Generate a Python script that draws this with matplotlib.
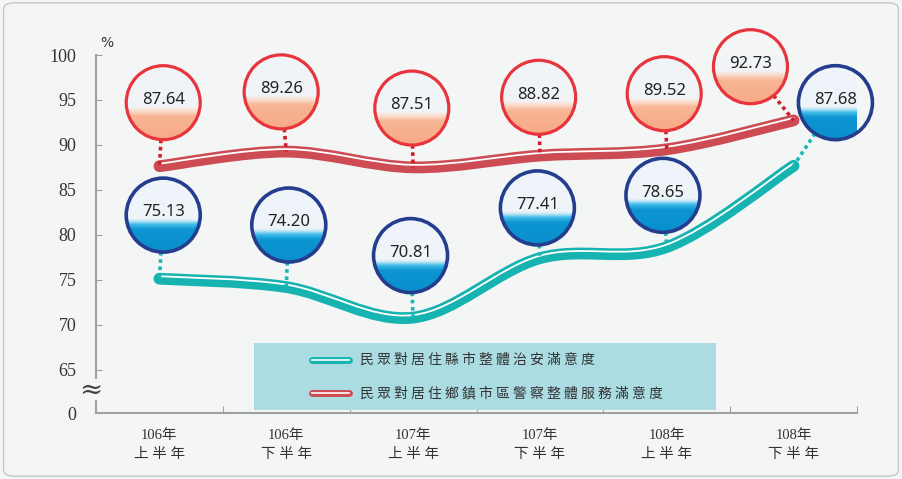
import matplotlib.pyplot as plt
import numpy as np
from matplotlib.path import Path
from matplotlib.patches import PathPatch, Ellipse, Rectangle, FancyBboxPatch
from matplotlib.lines import Line2D
from matplotlib.colors import to_rgb
from matplotlib import transforms

plt.rcParams['font.family'] = ['Noto Sans CJK TC', 'DejaVu Sans']

# data
periods = ['106年\n上 半 年', '106年\n下 半 年', '107年\n上 半 年',
           '107年\n下 半 年', '108年\n上 半 年', '108年\n下 半 年']
county = [75.13, 74.20, 70.81, 77.41, 78.65, 87.68]   # 縣市整體治安滿意度
town = [87.64, 89.26, 87.51, 88.82, 89.52, 92.73]     # 鄉鎮市區警察整體服務滿意度
legend_labels = ['民眾對居住縣市整體治安滿意度', '民眾對居住鄉鎮市區警察整體服務滿意度']

# bubble centres (layout only)
town_bx = [0.03, 0.96, 1.99, 2.99, 3.98, 4.66]
town_by = [94.7, 95.9, 94.1, 95.3, 95.7, 98.7]
county_bx = [0.03, 1.02, 1.98, 2.98, 3.97, 5.33]
county_by = [82.2, 81.1, 77.7, 83.0, 84.4, 94.7]

BREAK = 60.2   # where "0" sits below the axis break
BG = '#f4f6f6'

fig = plt.figure(figsize=(9.02, 4.79), dpi=100, facecolor=BG)
ax = fig.add_axes([96/902, 1-413/479, 761/902, 358/479])
ax.set_facecolor(BG)
ax.set_xlim(-0.5, 5.5)
ax.set_ylim(BREAK, 100)

# pixels per data unit (for round bubbles)
PX_X = 761/6
PX_Y = 358/(100-BREAK)
rx, ry = 37/PX_X, 37/PX_Y


def smooth_path(xs, ys):
    pts = np.column_stack([xs, ys]).astype(float)
    n = len(pts)
    verts = [pts[0]]
    codes = [Path.MOVETO]
    for i in range(n-1):
        p0 = pts[max(i-1, 0)]
        p1, p2 = pts[i], pts[i+1]
        p3 = pts[min(i+2, n-1)]
        verts += [p1 + (p2-p0)/6, p2 - (p3-p1)/6, p2]
        codes += [Path.CURVE4]*3
    return Path(verts, codes)


def tube(xs, ys, color):
    path = smooth_path(xs, ys)
    ax.add_patch(PathPatch(path, fill=False, edgecolor=color, lw=8.5,
                           capstyle='round', joinstyle='round', zorder=3))
    shifted = transforms.offset_copy(ax.transData, fig=fig, y=1.8, units='points')
    ax.add_patch(PathPatch(path, fill=False, edgecolor='white', lw=1.3,
                           capstyle='round', transform=shifted, zorder=4))


def gradient(stops):
    t = np.linspace(0, 1, 256)
    pos = [s[0] for s in stops]
    cols = np.array([to_rgb(s[1]) for s in stops])
    rgb = np.stack([np.interp(t, pos, cols[:, k]) for k in range(3)], axis=-1)
    return rgb[:, None, :]


red_grad = gradient([(0, '#f0f4f8'), (0.55, '#f2f4f7'), (0.60, '#fbe0d2'),
                     (0.68, '#f8b594'), (1, '#f7a986')])
blue_grad = gradient([(0, '#eff4f9'), (0.55, '#eef4f9'), (0.58, '#bfe7f6'),
                      (0.63, '#3ab9e6'), (0.70, '#0c95d2'), (1, '#0a8fcd')])


def bubble(cx, cy, px, py, value, edge, grad, dotcolor, elw):
    dx, dy = (px-cx)*PX_X, (py-cy)*PX_Y
    d = np.hypot(dx, dy)
    sx, sy = cx + rx*dx/d, cy + ry*dy/d
    ax.plot([sx, px], [sy, py], color=dotcolor, lw=2.6, ls=(0, (1, 1)),
            zorder=5, clip_on=False)
    ell = Ellipse((cx, cy), 2*rx, 2*ry, facecolor='none', edgecolor=edge,
                  lw=elw, zorder=7, clip_on=False)
    ax.add_patch(ell)
    im = ax.imshow(grad, extent=[cx-rx, cx+rx, cy-ry, cy+ry], aspect='auto',
                   zorder=6, interpolation='bilinear')
    im.set_clip_path(ell)
    im.set_clip_box(None)
    ax.text(cx, cy+0.3, f'{value:.2f}', ha='center', va='center', fontsize=12,
            family='Noto Sans', color='#222222', zorder=8)


x = np.arange(len(periods))
tube(x, town, '#cd4b52')
tube(x, county, '#17b3b1')

for i in range(len(x)):
    bubble(town_bx[i], town_by[i], x[i], town[i], town[i],
           '#e8343c', red_grad, '#cf1f2a', 2.3)
    bubble(county_bx[i], county_by[i], x[i], county[i], county[i],
           '#243d8c', blue_grad, '#19b8b8', 2.6)

ax.set_xlim(-0.5, 5.5)
ax.set_ylim(BREAK, 100)

# axes styling
for s in ['top', 'right']:
    ax.spines[s].set_visible(False)
for s in ['left', 'bottom']:
    ax.spines[s].set_color('#a0a0a0')
    ax.spines[s].set_linewidth(1.5)

yt = [BREAK, 65, 70, 75, 80, 85, 90, 95, 100]
ax.set_yticks(yt)
ax.set_yticklabels(['0'] + [str(v) for v in yt[1:]],
                   family='Liberation Serif', fontsize=13, color='#333333')
ax.tick_params(axis='y', direction='in', length=4, color='#a0a0a0', pad=14)

ax.set_xticks(np.arange(-0.5, 6, 1), minor=False)
ax.set_xticklabels([])
ax.tick_params(axis='x', direction='in', length=5, color='#a0a0a0')
for i, lab in enumerate(periods):
    ax.text(x[i], -0.045, lab, transform=ax.get_xaxis_transform(), ha='center',
            va='top', fontsize=10.5, linespacing=1.55, color='#333333',
            family=['Liberation Serif', 'Noto Sans CJK TC'])

ax.text(0.005, 1.015, '%', transform=ax.transAxes, fontsize=10,
        family='DejaVu Sans', color='#333333', va='bottom')

# axis break
ax.add_patch(Rectangle((-0.02, 0.035), 0.04, 0.06, transform=ax.transAxes,
                       facecolor=BG, edgecolor='none', clip_on=False, zorder=9))
ax.text(-0.007, 0.062, '≈', transform=ax.transAxes, ha='center', va='center',
        fontsize=20, family='DejaVu Serif', color='#444444', zorder=10)

# legend
ax.add_patch(Rectangle((0.2076, 0.0084), 0.607, 0.187, transform=ax.transAxes,
                       facecolor='#aadce2', edgecolor='none', zorder=2))
for ly, col, lab in [(0.148, '#17b3b1', legend_labels[0]),
                     (0.0559, '#cd4b52', legend_labels[1])]:
    ax.add_line(Line2D([0.2838, 0.3325], [ly, ly], transform=ax.transAxes,
                       color=col, lw=5, solid_capstyle='round', zorder=3))
    ax.add_line(Line2D([0.2838, 0.3325], [ly, ly], transform=ax.transAxes,
                       color='white', lw=1.2, zorder=4))
    ax.text(0.3469, ly, ' '.join(lab), transform=ax.transAxes, va='center',
            fontsize=10, color='#333333', zorder=4)

# outer frame
fig.patches.append(FancyBboxPatch((0.004, 0.006), 0.992, 0.988,
                                  boxstyle='round,pad=0,rounding_size=0.012',
                                  transform=fig.transFigure, fill=False,
                                  edgecolor='#c8c8c8', lw=1))

fig.savefig('out.png', dpi=100, facecolor=BG)
